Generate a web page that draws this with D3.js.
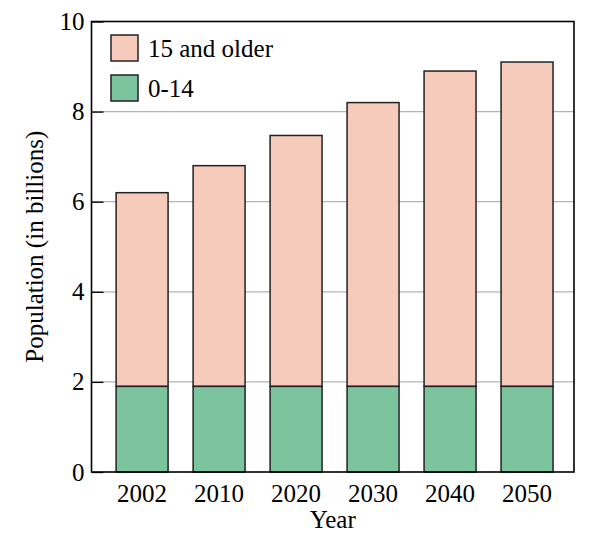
<!DOCTYPE html>
<html><head><meta charset="utf-8">
<script src="https://cdn.jsdelivr.net/npm/d3@7"></script>
<style>body{margin:0;background:#fff}</style>
</head><body>
<svg id="c" width="600" height="545"></svg>
<script>
const years = ["2002","2010","2020","2030","2040","2050"];
const young = [1.9,1.9,1.9,1.9,1.9,1.9];
const total = [6.2,6.8,7.47,8.2,8.9,9.1];
const seriesNames = ["15 and older","0-14"];
const colors = ["#f6cbbb","#7bc49e"];
const yTicks = [0,2,4,6,8,10];

const svg = d3.select("#c");
const L=91.5,R=574,T=21.5,B=472;
const font = "'Liberation Serif', 'Times New Roman', serif";
const fs = 25;
const x = d3.scaleBand().domain(years).range([L,R]).paddingInner(0.325).paddingOuter(0.296).align(0.54);
const y = d3.scaleLinear().domain([0,10]).range([B,T]);

// grid
svg.append("g").selectAll("line").data(yTicks.filter(d=>d>0&&d<10)).join("line")
  .attr("x1",L).attr("x2",R).attr("y1",d=>y(d)).attr("y2",d=>y(d))
  .attr("stroke","#b4b4b4").attr("stroke-width",1.2);

const stack = years.map((yr,i)=>({yr, y:young[i], t:total[i]}));
// bars
const g = svg.append("g").attr("stroke","#222").attr("stroke-width",1.5);
g.selectAll(".o").data(stack).join("rect")
  .attr("x",d=>x(d.yr)).attr("width",x.bandwidth())
  .attr("y",d=>y(d.t)).attr("height",d=>y(d.y)-y(d.t)).attr("fill",colors[0]);
g.selectAll(".y").data(stack).join("rect")
  .attr("x",d=>x(d.yr)).attr("width",x.bandwidth())
  .attr("y",d=>y(d.y)).attr("height",d=>y(0)-y(d.y)).attr("fill",colors[1]);

// y axis
const ya = svg.append("g").attr("transform",`translate(${L},0)`)
  .call(d3.axisLeft(y).tickValues(yTicks).tickSize(-12).tickPadding(7).tickFormat(d3.format("d")));
ya.select(".domain").remove();
ya.selectAll("line").attr("stroke","#000").attr("stroke-width",1.3);
ya.selectAll("text").attr("font-family",font).attr("font-size",fs).attr("fill","#000");

// x axis
const xa = svg.append("g").attr("transform",`translate(0,${B})`)
  .call(d3.axisBottom(x).tickSize(0).tickPadding(12));
xa.select(".domain").remove();
xa.selectAll("text").attr("font-family",font).attr("font-size",fs).attr("fill","#000");

// frame
svg.append("rect").attr("x",L).attr("y",T).attr("width",R-L).attr("height",B-T)
  .attr("fill","none").attr("stroke","#000").attr("stroke-width",1.6);

// labels
svg.append("text").attr("x",(L+R)/2).attr("y",528).attr("text-anchor","middle")
  .attr("font-family",font).attr("font-size",fs).text("Year");
svg.append("text").attr("transform",`translate(43,${(T+B)/2}) rotate(-90)`).attr("text-anchor","middle")
  .attr("font-family",font).attr("font-size",fs).text("Population (in billions)");

// legend
const lg = svg.append("g");
seriesNames.forEach((n,i)=>{
  lg.append("rect").attr("x",111).attr("y",35+i*40).attr("width",27).attr("height",26)
    .attr("fill",colors[i]).attr("stroke","#222").attr("stroke-width",1.5);
  lg.append("text").attr("x",148).attr("y",57+i*40).attr("font-family",font).attr("font-size",fs).text(n);
});
</script>
</body></html>
